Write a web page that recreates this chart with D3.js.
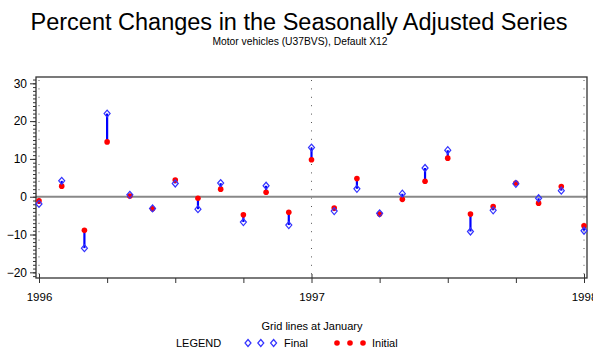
<!DOCTYPE html>
<html lang="en">
<head>
<meta charset="utf-8">
<title>Percent Changes in the Seasonally Adjusted Series</title>
<script src="https://d3js.org/d3.v7.min.js"></script>
<style>
	body { margin: 0; background: #fff; }
	svg text { font-family: 'Liberation Sans', Arial, Helvetica, sans-serif; fill: #000; }
</style>
</head>
<body>
<div id="chart"></div>
<script>
// monthly points, Jan 1996 .. Jan 1998
var months = d3.range(0, 25);
var finalVals = [-1.9, 4.2, -13.6, 22.0, 0.5, -3.1, 3.5, -3.3, 3.6, -6.7, 2.9, -7.5,
	13.0, -3.8, 2.1, -4.4, 0.8, 7.6, 12.3, -9.2, -3.6, 3.4, -0.4, 1.6, -9.0];
var initialVals = [-1.1, 2.8, -8.9, 14.5, 0.2, -3.2, 4.4, -0.4, 2.0, -4.8, 1.2, -4.1,
	9.8, -3.0, 4.8, -4.6, -0.7, 4.1, 10.2, -4.6, -2.6, 3.6, -1.7, 2.7, -7.7];
var yearTicks = [0, 12, 24];
var yearLabels = ["1996", "1997", "1998"];
var yTicks = [-20, -10, 0, 10, 20, 30];

var width = 593, height = 351;

var svg = d3.select("#chart").append("svg")
	.attr("width", width)
	.attr("height", height);

var x = d3.scaleLinear().domain([0, 24]).range([39, 584]);
var y = d3.scaleLinear().domain([-21.5, 31.67]).range([278, 77]);

// titles
svg.append("text")
	.attr("x", 299).attr("y", 30)
	.attr("text-anchor", "middle")
	.style("font-size", "23.5px")
	.text("Percent Changes in the Seasonally Adjusted Series");
svg.append("text")
	.attr("x", 300).attr("y", 45)
	.attr("text-anchor", "middle")
	.style("font-size", "10.3px")
	.text("Motor vehicles (U37BVS), Default X12");

// grid lines at January
svg.selectAll(".grid")
	.data(yearTicks)
	.enter().append("line")
	.attr("x1", d => x(d)).attr("x2", d => x(d))
	.attr("y1", 80).attr("y2", 278)
	.attr("stroke", "#555")
	.attr("stroke-width", 1)
	.attr("stroke-dasharray", "1,7.4");

// zero reference line
svg.append("line")
	.attr("x1", 36).attr("x2", 587)
	.attr("y1", y(0)).attr("y2", y(0))
	.attr("stroke", "#888")
	.attr("stroke-width", 2);

// frame
svg.append("rect")
	.attr("x", 36).attr("y", 77)
	.attr("width", 551).attr("height", 201)
	.attr("fill", "none")
	.attr("stroke", "#333")
	.attr("stroke-width", 1.3);

// left axis: major + minor ticks
var yAxis = d3.axisLeft(y).tickValues(yTicks).tickSize(6).tickPadding(3)
	.tickFormat(d => d < 0 ? "\u2212" + Math.abs(d) : d);
var ya = svg.append("g").attr("transform", "translate(36,0)").call(yAxis);
ya.select(".domain").remove();
ya.selectAll("text").style("font-size", "12px").attr("font-family", null);
ya.selectAll("line").attr("stroke", "#333");

var yMinor = d3.axisLeft(y).tickValues(d3.range(-21, 32)).tickSize(3).tickFormat("");
var ym = svg.append("g").attr("transform", "translate(36,0)").call(yMinor);
ym.select(".domain").remove();
ym.selectAll("line").attr("stroke", "#333");

// bottom axis: quarterly ticks, labels at January
var xAxis = d3.axisBottom(x).tickValues(d3.range(0, 25, 3)).tickSize(5).tickPadding(10)
	.tickFormat(d => yearTicks.indexOf(d) >= 0 ? yearLabels[yearTicks.indexOf(d)] : "");
var xa = svg.append("g").attr("transform", "translate(0,278)").call(xAxis);
xa.select(".domain").remove();
xa.selectAll("text").style("font-size", "11.5px").attr("font-family", null);
xa.selectAll("line").attr("stroke", "#333");
xa.selectAll(".tick").filter(d => yearTicks.indexOf(d) >= 0).select("line").attr("y1", -4).attr("y2", 5);

svg.append("text")
	.attr("x", 312).attr("y", 330)
	.attr("text-anchor", "middle")
	.style("font-size", "11px")
	.text("Grid lines at January");

// connecting needles
svg.selectAll(".needle")
	.data(months)
	.enter().append("line")
	.attr("x1", d => x(d)).attr("x2", d => x(d))
	.attr("y1", d => y(finalVals[d])).attr("y2", d => y(initialVals[d]))
	.attr("stroke", "#0000ff")
	.attr("stroke-width", 2.2);

var diamond = "M0,-3.5L3,0L0,3.5L-3,0Z";

// initial values: filled red dots
svg.selectAll(".initial")
	.data(months)
	.enter().append("circle")
	.attr("cx", d => x(d)).attr("cy", d => y(initialVals[d]))
	.attr("r", 2.8)
	.attr("fill", "#ff0000");

// final values: open blue diamonds
svg.selectAll(".final")
	.data(months)
	.enter().append("path")
	.attr("transform", d => "translate(" + x(d) + "," + y(finalVals[d]) + ")")
	.attr("d", diamond)
	.attr("fill", "none")
	.attr("stroke", "#3333ff")
	.attr("stroke-width", 1.2);

// legend
var ly = 343;
svg.append("text").attr("x", 176).attr("y", ly + 4).style("font-size", "11px").text("LEGEND");
var lx = d3.scaleLinear().domain([0, 1]).range([248, 260.8]);
svg.selectAll(".legD")
	.data([0, 1, 2])
	.enter().append("path")
	.attr("transform", d => "translate(" + lx(d) + "," + ly + ")")
	.attr("d", diamond)
	.attr("fill", "none")
	.attr("stroke", "#3333ff")
	.attr("stroke-width", 1.2);
svg.append("text").attr("x", 284).attr("y", ly + 4).style("font-size", "11px").text("Final");
var lx2 = d3.scaleLinear().domain([0, 1]).range([337, 350]);
svg.selectAll(".legC")
	.data([0, 1, 2])
	.enter().append("circle")
	.attr("cx", d => lx2(d)).attr("cy", ly)
	.attr("r", 2.8)
	.attr("fill", "#ff0000");
svg.append("text").attr("x", 372).attr("y", ly + 4).style("font-size", "11px").text("Initial");
</script>
</body>
</html>
